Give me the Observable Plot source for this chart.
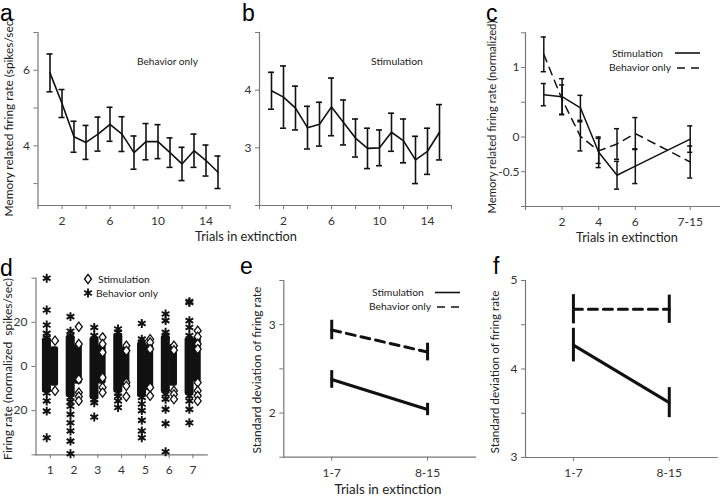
<!DOCTYPE html>
<html><head><meta charset="utf-8">
<script src="https://cdn.jsdelivr.net/npm/d3@7"></script>
<script src="https://cdn.jsdelivr.net/npm/@observablehq/plot@0.6"></script>
<style>
body{margin:0;background:#fff;}
#fig{position:relative;width:720px;height:496px;overflow:hidden;background:#fff;}
#fig > svg{position:absolute;}
</style></head><body><div id="fig"></div>
<script>
const aTrials = [1,2,3,4,5,6,7,8,9,10,11,12,13,14,15];
const aRate = [5.93,5.12,4.24,4.09,4.31,4.57,4.31,3.82,4.11,4.11,3.82,3.52,3.87,3.61,3.30];
const aErr  = [0.50,0.37,0.41,0.45,0.45,0.45,0.46,0.44,0.48,0.45,0.39,0.44,0.44,0.41,0.43];
const abTicksX = [0,2,4,6,8,10,12,14,16];
const abTickLabelsX = [2,6,10,14];
const aTicksY = [3,4,5,6,7];
const aTickLabelsY = [4,6];
const bTrials = [1,2,3,4,5,6,7,8,9,10,11,12,13,14,15];
const bRate = [3.99,3.88,3.69,3.35,3.41,3.71,3.44,3.17,2.99,3.00,3.27,3.12,2.79,2.94,3.27];
const bErr  = [0.32,0.54,0.38,0.37,0.38,0.50,0.39,0.33,0.35,0.31,0.33,0.38,0.41,0.40,0.48];
const bTicksY = [2,3,4,5];
const bTickLabelsY = [3,4];
const cGroup = [1,2,3,4,5,6,9];
const cTickPos = [0,2,4,6,9];
const cTickText = ["","2","4","6","7-15"];
const cStim = [0.61,0.58,0.42,-0.22,-0.55,-0.42,-0.03];
const cStimErr = [0.16,0.26,0.18,0.22,0.20,0.25,0.19];
const cBeh = [1.19,0.54,0.01,-0.20,-0.10,0.05,-0.36];
const cBehErr = [0.25,0.21,0.21,0.18,0.22,0.23,0.23];
const cTicksY = [-1,-0.5,0,0.5,1,1.5];
const cTickLabelsY = [-0.5,0,1];
const dGroups = [1,2,3,4,5,6,7];
const dBehCoreLo = [-12,-14,-15,-12,-14,-12,-13];
const dBehCoreHi = [13,14,13,15,11,14,13];
const dStimCoreLo = [-9,-8,-8,-9,-11,-9,-7];
const dStimCoreHi = [9,10,10,9,10,10,13];
const dBehPoints = [
  [40,25.6,18.8,15,13,-12,-15.6,-20.2,-32.3],
  [22.6,16,14,-14,-16,-18,-21.7,-25.5,-29.2,-33.8,-39.5],
  [17.7,14,12,-15,-16.4,-22.9],
  [17,15.5,13,-12,-13.5,-15.6,-18.6],
  [19.5,12.4,11,-14,-17,-20,-24.4,-29.2,-32.3],
  [23.8,20.8,15.5,14,-12.5,-14.8,-19.4,-25.9,-38.6],
  [29.4,29,20.8,17.7,14,-13.3,-15.6,-19.4,-25.5]
];
const dStimPoints = [
  [11.7,-11],
  [18,10.2,-5.8,-11.8,-13.6,-15.6],
  [13.2,10.2,6.4,-5,-9.5,-11.8],
  [9.4,7.1,-7.3,-8.8,-13.6],
  [12.4,10.9,7.9,-9.5,-13.3],
  [9.4,7.4,-11,-12.6,-14.8],
  [16.2,13.5,10.2,7.9,-7.3,-11,-13.3,-15.6]
];
const dTicksY = [-40,-20,0,20,40];
const dTickLabelsY = [-20,0,20];
const efGroup = [1,2];
const efTickText = ["1-7","8-15"];
const eStim = [2.38,2.04], eStimErr = [0.10,0.07];
const eBeh  = [2.94,2.69], eBehErr  = [0.11,0.10];
const eTicksY = [1.5,2,2.5,3,3.5], eTickLabelsY = [2,3];
const fStim = [4.27,3.62], fStimErr = [0.19,0.17];
const fBeh  = [4.675,4.675], fBehErr = [0.165,0.16];
const fTicksY = [3,3.5,4,4.5,5], fTickLabelsY = [3,4,5];

const fig = document.getElementById("fig");
const AX = "#777", INK = "#111";
const FONT = "Lato, 'Open Sans', sans-serif";
const baseStyle = {background:"transparent", fontFamily:FONT, fontSize:"12px", color:"#333", overflow:"visible", maxWidth:"none"};
const ov = d3.create("svg").attr("width",720).attr("height",496)
  .style("left","0px").style("top","0px").style("pointer-events","none").style("font-family", FONT);
fig.appendChild(ov.node());
function place(svg, left, topPx){ svg.style.left = left+"px"; svg.style.top = topPx+"px"; fig.appendChild(svg); return svg; }
function rows(xs, ys, es){ return xs.map((x,i)=>({x, y:ys[i], e:es[i]})); }
function axes(xTicks, xFmt, yTicks, yFmt, yPad=4){
  return [
    Plot.frame({anchor:"left", stroke:AX, strokeWidth:1.2}),
    Plot.frame({anchor:"bottom", stroke:AX, strokeWidth:1.2}),
    Plot.axisX({ticks:xTicks, tickFormat:xFmt, tickSize:4, tickPadding:7, stroke:AX, label:null, fontSize:12}),
    Plot.axisY({ticks:yTicks, tickFormat:yFmt, tickSize:4, tickPadding:yPad, stroke:AX, label:null, fontSize:12})
  ];
}
function errBars(data, cap, sw, dash){
  const m = [Plot.ruleX(data, {x:"x", y1:d=>d.y-d.e, y2:d=>d.y+d.e, stroke:INK, strokeWidth:sw})];
  if (cap) {
    m.push(Plot.ruleY(data, {y:d=>d.y+d.e, x1:d=>d.x-cap, x2:d=>d.x+cap, stroke:INK, strokeWidth:sw}));
    m.push(Plot.ruleY(data, {y:d=>d.y-d.e, x1:d=>d.x-cap, x2:d=>d.x+cap, stroke:INK, strokeWidth:sw}));
  }
  m.push(Plot.line(data, {x:"x", y:"y", stroke:INK, strokeWidth:sw, strokeDasharray:dash}));
  return m;
}
const labelIf = list => d => list.includes(d) ? String(d) : "";

place(Plot.plot({width:245, height:230, marginLeft:37.5, marginRight:15.5, marginTop:32, marginBottom:25,
  style:baseStyle, x:{domain:[0,16]}, y:{domain:[2.42,7]},
  marks:[...axes(abTicksX, labelIf(abTickLabelsX), aTicksY, labelIf(aTickLabelsY)), ...errBars(rows(aTrials,aRate,aErr), 0.25, 1.6)]}), 0, 0);
place(Plot.plot({width:225, height:230, marginLeft:14, marginRight:19, marginTop:32, marginBottom:25,
  style:baseStyle, x:{domain:[0,16]}, y:{domain:[2,5]},
  marks:[...axes(abTicksX, labelIf(abTickLabelsX), bTicksY, labelIf(bTickLabelsY)), ...errBars(rows(bTrials,bRate,bErr), 0.25, 1.6)]}), 245, 0);
place(Plot.plot({width:250, height:230, marginLeft:55, marginRight:1, marginTop:32.3, marginBottom:24,
  style:baseStyle, x:{domain:[0,10.6]}, y:{domain:[-1,1.5]},
  marks:[...axes(cTickPos, d => cTickText[cTickPos.indexOf(d)], cTicksY, labelIf(cTickLabelsY), 2),
         ...errBars(rows(cGroup,cStim,cStimErr), 0.14, 1.5), ...errBars(rows(cGroup,cBeh,cBehErr), 0.14, 1.5, "8,6")]}), 470, 0);

const diamondSym = {draw(ctx){ const h = 4.6, w = 3.5; ctx.moveTo(0,-h); ctx.lineTo(w,0); ctx.lineTo(0,h); ctx.lineTo(-w,0); ctx.closePath(); }};
const dCore = dGroups.map((g,i)=>({g, bLo:dBehCoreLo[i], bHi:dBehCoreHi[i], sLo:dStimCoreLo[i], sHi:dStimCoreHi[i]}));
const dBeh = dGroups.flatMap((g,i)=>dBehPoints[i].map(v=>({g, v})));
const dStim = dGroups.flatMap((g,i)=>dStimPoints[i].map(v=>({g, v})));
const dTop = 245;
const dPlot = place(Plot.plot({width:240, height:230, marginLeft:35.5, marginRight:33.3, marginTop:32.7, marginBottom:20.7,
  style:baseStyle, x:{domain:[0.4,7.6]}, y:{domain:[-40,40]},
  marks:[...axes(dGroups, d=>String(d), dTicksY, () => ""),
    Plot.rect(dCore, {x1:d=>d.g-0.33, x2:d=>d.g+0.05, y1:"bLo", y2:"bHi", fill:INK, rx:2}),
    Plot.rect(dCore, {x1:d=>d.g+0.02, x2:d=>d.g+0.35, y1:"sLo", y2:"sHi", fill:INK, rx:2}),
    Plot.dot(dBeh, {x:d=>d.g-0.15, y:"v", symbol:"asterisk", r:4.2, stroke:INK, strokeWidth:1.9}),
    Plot.dot(dStim, {x:d=>d.g+0.2, y:"v", symbol:diamondSym, r:3, fill:"white", stroke:INK, strokeWidth:1.3})]}), 0, dTop);
place(Plot.plot({width:240, height:230, marginLeft:43.3, marginRight:5, marginTop:35, marginBottom:18.3,
  style:baseStyle, x:{domain:[0.5,2.5]}, y:{domain:[1.5,3.5]},
  marks:[...axes(efGroup, d=>efTickText[d-1], eTicksY, labelIf(eTickLabelsY)),
         ...errBars(rows(efGroup,eStim,eStimErr), 0, 3), ...errBars(rows(efGroup,eBeh,eBehErr), 0, 3, "9,6")]}), 240, 245);
place(Plot.plot({width:240, height:230, marginLeft:45, marginRight:3.3, marginTop:35, marginBottom:18,
  style:baseStyle, x:{domain:[0.5,2.5]}, y:{domain:[3,5]},
  marks:[...axes(efGroup, d=>efTickText[d-1], fTicksY, labelIf(fTickLabelsY)),
         ...errBars(rows(efGroup,fStim,fStimErr), 0, 3), ...errBars(rows(efGroup,fBeh,fBehErr), 0, 3, "9,6")]}), 480, 245);

function fit(sel){ sel.each(function(d){ const t = d3.select(this); t.style("font-size","12px"); const L = this.getComputedTextLength(); if (L>0) t.style("font-size", (12*d[3]/L).toFixed(2)+"px"); }); }
const letters = [["a",0,21],["b",242,21],["c",486,21],["d",0,276],["e",240,274],["f",493,274]];
ov.selectAll("text.letter").data(letters).join("text").attr("class","letter").attr("x",d=>d[1]).attr("y",d=>d[2]).text(d=>d[0])
  .style("font-family","'Liberation Sans', Arial, sans-serif").style("font-size","23px").attr("fill","#000");
const ytitles = [["Memory related firing rate (spikes/sec)",13,117,199],["Memory related firing rate (normalized)",496,117,193],
  ["Firing rate (normalized  spikes/sec)",12,369,182],["Standard deviation of firing rate",261,370,167],["Standard deviation of firing rate",499,372,163]];
ov.selectAll("text.yt").data(ytitles).join("text").attr("class","yt").attr("transform",d=>`translate(${d[1]},${d[2]}) rotate(-90)`)
  .attr("text-anchor","middle").style("white-space","pre").attr("fill","#222").text(d=>d[0]).call(fit);
const xtitles = [["Trials in extinction",246,241,102],["Trials in extinction",627,242,102],["Trials in extinction",388,494,107]];
ov.selectAll("text.xt").data(xtitles).join("text").attr("class","xt").attr("x",d=>d[1]).attr("y",d=>d[2]).attr("text-anchor","middle")
  .attr("fill","#222").text(d=>d[0]).call(fit);
const notes = [["Behavior only",137,65,61],["Stimulation",371,65,52],["Stimulation",612,57,51],["Behavior only",609,71,62],
  ["Stimulation",98,283,52],["Behavior only",96,297,62],["Stimulation",372,296,52],["Behavior only",369,310,62]];
ov.selectAll("text.note").data(notes).join("text").attr("class","note").attr("x",d=>d[1]).attr("y",d=>d[2]).attr("fill","#222").text(d=>d[0]).call(fit);
const legendLines = [[675,700,53,null],[677,702,68,"8,6"],[435,460,292.5,null],[437,460,307,"8,6"]];
ov.selectAll("line.lg").data(legendLines).join("line").attr("class","lg").attr("x1",d=>d[0]).attr("x2",d=>d[1]).attr("y1",d=>d[2]).attr("y2",d=>d[2])
  .attr("stroke",INK).attr("stroke-width",1.6).attr("stroke-dasharray",d=>d[3]);
ov.append("path").attr("transform","translate(88,279)").attr("d","M0,-4.6L3.5,0L0,4.6L-3.5,0Z").attr("fill","white").attr("stroke",INK).attr("stroke-width",1.4);
ov.append("path").attr("transform","translate(88,293)").attr("d", d3.symbol(d3.symbolAsterisk, 55)()).attr("fill","none").attr("stroke",INK).attr("stroke-width",1.9);

const dy = dPlot.scale("y");
const dLabelLayer = d3.create("svg").attr("width",720).attr("height",496).style("left","0px").style("top","0px").style("pointer-events","none");
dLabelLayer.selectAll("text").data(dTickLabelsY).join("text")
  .attr("x", 35.5 - 8).attr("y", d => dTop + dy.apply(d)).attr("dy","0.32em")
  .attr("text-anchor","end").style("font-family",FONT).style("font-size","12px").attr("fill","#333").text(d => String(d));
fig.appendChild(dLabelLayer.node());
</script>
</body></html>
